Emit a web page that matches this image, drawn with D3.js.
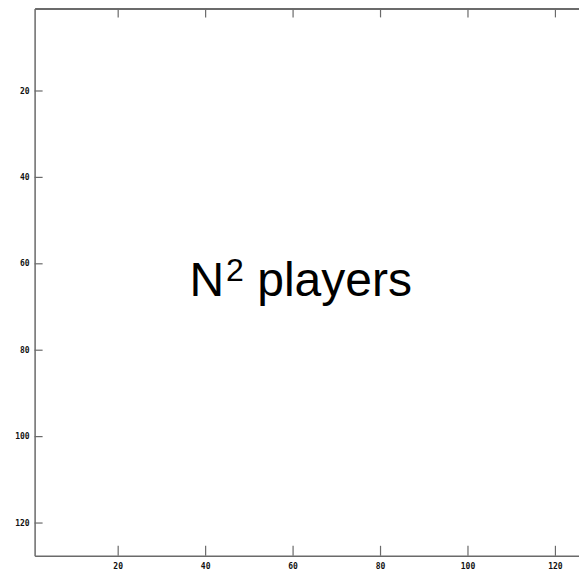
<!DOCTYPE html>
<html>
<head>
<meta charset="utf-8">
<script src="https://cdn.jsdelivr.net/npm/d3@7"></script>
<style>
  html, body { margin: 0; padding: 0; background: #fff; }
  svg { display: block; }
  .tick text { font-family: "DejaVu Sans Mono", monospace; font-weight: bold; font-size: 8px; fill: #111; }
</style>
</head>
<body>
<svg id="chart" width="579" height="573"></svg>
<script>
// Image-grid coordinates (columns / rows), 128 x 128 cells
const xDomain = [1, 128.5];
const yDomain = [1, 127.7];
const xTicks = [20, 40, 60, 80, 100, 120];
const yTicks = [20, 40, 60, 80, 100, 120];
const titleBase = "N";
const titleSup = "2";
const titleRest = " players";

(function draw() {
  const svg = d3.select("#chart");

  const padLeft = 34.6, padTop = 8.4, padBottom = 555.8;
  const x = d3.scaleLinear().domain(xDomain).range([padLeft, padLeft + (xDomain[1] - xDomain[0]) * 4.3725]);
  const y = d3.scaleLinear().domain(yDomain).range([padTop, padBottom]);

  const axisColor = "#6a6a6a";

  // Bottom axis: ticks point inward, labels below
  const gB = svg.append("g").attr("transform", `translate(0,${padBottom})`)
    .call(d3.axisBottom(x).tickValues(xTicks).tickSizeInner(-10).tickSizeOuter(0).tickPadding(8));

  // Top axis: inward ticks, no labels
  const gT = svg.append("g").attr("transform", `translate(0,${padTop})`)
    .call(d3.axisTop(x).tickValues(xTicks).tickSizeInner(-9).tickSizeOuter(0).tickFormat(""));

  // Left axis: inward ticks, labels to the left
  const gL = svg.append("g").attr("transform", `translate(${padLeft},0)`)
    .call(d3.axisLeft(y).tickValues(yTicks).tickSizeInner(-8).tickSizeOuter(0).tickPadding(5));

  // Right axis
  const gR = svg.append("g").attr("transform", `translate(${x(xDomain[1])},0)`)
    .call(d3.axisRight(y).tickValues(yTicks).tickSizeInner(-8).tickSizeOuter(0).tickFormat(""));

  [gB, gT, gL, gR].forEach(g => {
    g.select(".domain").attr("stroke", axisColor).attr("stroke-width", 1.5);
    g.selectAll(".tick line").attr("stroke", axisColor).attr("stroke-width", 1.2);
  });
  gT.select(".domain").attr("stroke", "#3a3a3a");

  // Centre label
  const label = svg.append("text")
    .attr("x", x(36.4))
    .attr("y", 296)
    .attr("text-anchor", "start")
    .attr("font-family", "Liberation Sans, Arial, sans-serif")
    .attr("font-size", 48)
    .attr("fill", "#000");
  label.append("tspan").text(titleBase);
  label.append("tspan").attr("dx", 2).attr("dy", -15).attr("font-size", 32).text(titleSup);
  label.append("tspan").attr("dy", 15).text(titleRest);
})();
</script>
</body>
</html>
